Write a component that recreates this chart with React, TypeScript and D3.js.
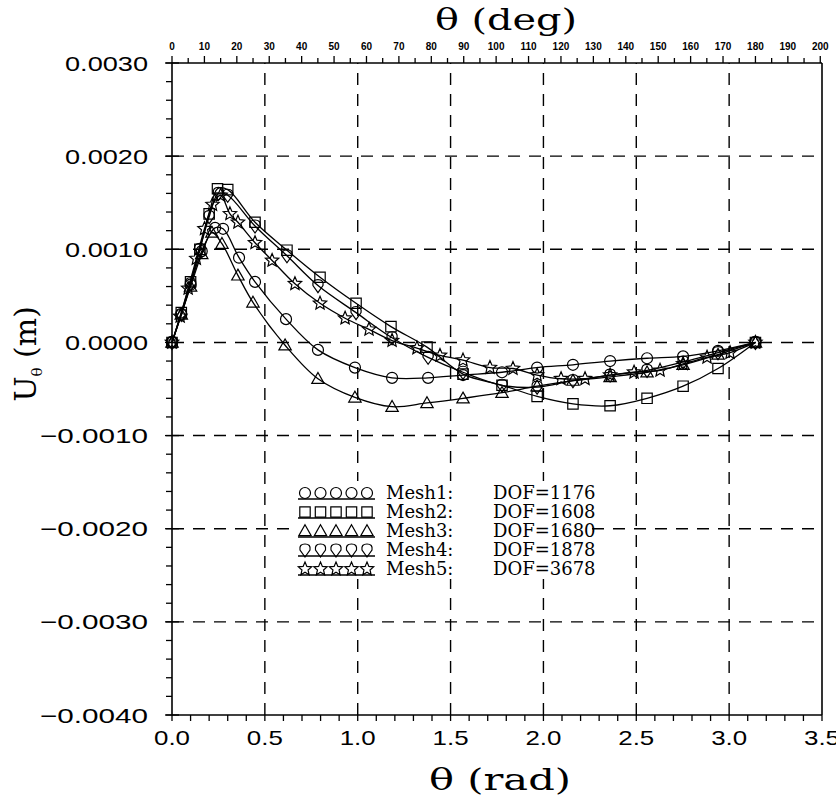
import React from "react";
import * as d3 from "d3";

const W = 836;
const H = 801;

// x in rad, y in m
const mesh1X = [0, 0.05, 0.1, 0.16, 0.232, 0.275, 0.361, 0.447, 0.614, 0.786, 0.985, 1.185, 1.379, 1.567, 1.777, 1.966, 2.159, 2.359, 2.558, 2.752, 2.94, 3.1416];
const mesh1Y = [0, 0.0003, 0.00062, 0.00098, 0.00123, 0.00122, 0.00091, 0.00065, 0.00025, -0.00008, -0.00027, -0.00038, -0.00038, -0.00035, -0.00032, -0.00027, -0.00024, -0.0002, -0.00017, -0.00015, -0.00009, 0];

const mesh2X = [0, 0.05, 0.1, 0.15, 0.2, 0.245, 0.3, 0.447, 0.619, 0.797, 0.991, 1.179, 1.373, 1.567, 1.777, 1.966, 2.159, 2.359, 2.558, 2.752, 2.94, 3.1416];
const mesh2Y = [0, 0.00032, 0.00065, 0.001, 0.00138, 0.00165, 0.00164, 0.00129, 0.00099, 0.0007, 0.00042, 0.00017, -0.00005, -0.00034, -0.00046, -0.00058, -0.00066, -0.00068, -0.0006, -0.00047, -0.00028, 0];

const mesh3X = [0, 0.05, 0.1, 0.16, 0.215, 0.269, 0.355, 0.436, 0.609, 0.786, 0.985, 1.185, 1.373, 1.567, 1.777, 1.966, 2.159, 2.359, 2.558, 2.752, 2.94, 3.1416];
const mesh3Y = [0, 0.0003, 0.0006, 0.00095, 0.00118, 0.00106, 0.00072, 0.00043, -0.00003, -0.00039, -0.00059, -0.00069, -0.00065, -0.0006, -0.00054, -0.00047, -0.00041, -0.00037, -0.00032, -0.00024, -0.00013, 0];

const mesh4X = [0, 0.05, 0.1, 0.15, 0.2, 0.25, 0.3, 0.447, 0.619, 0.786, 0.991, 1.185, 1.379, 1.567, 1.777, 1.966, 2.159, 2.359, 2.558, 2.752, 2.94, 3.1416];
const mesh4Y = [0, 0.0003, 0.00063, 0.001, 0.00135, 0.0016, 0.00158, 0.00125, 0.00093, 0.00061, 0.00032, 0.00005, -0.00016, -0.00032, -0.00046, -0.00048, -0.00041, -0.00035, -0.0003, -0.00021, -0.00011, 0];

const mesh5X = [0, 0.044, 0.087, 0.131, 0.175, 0.218, 0.262, 0.312, 0.355, 0.447, 0.539, 0.662, 0.797, 0.932, 1.061, 1.185, 1.319, 1.443, 1.567, 1.712, 1.836, 1.966, 2.095, 2.224, 2.359, 2.488, 2.628, 2.752, 2.881, 3.005, 3.1416];
const mesh5Y = [0, 0.00028, 0.00058, 0.0009, 0.00122, 0.00148, 0.00158, 0.00138, 0.00129, 0.00107, 0.00088, 0.00063, 0.00042, 0.00026, 0.00014, 0.00002, -0.00006, -0.00014, -0.00019, -0.00027, -0.00028, -0.00035, -0.00039, -0.00039, -0.00035, -0.00032, -0.0003, -0.00023, -0.00016, -0.00011, 0];

const seriesNames = ["Mesh1:", "Mesh2:", "Mesh3:", "Mesh4:", "Mesh5:"];
const seriesDOF = ["DOF=1176", "DOF=1608", "DOF=1680", "DOF=1878", "DOF=3678"];
const seriesMarkers = ["circle", "square", "triangle", "diamond", "star"];

const xTicks = [0, 0.5, 1.0, 1.5, 2.0, 2.5, 3.0, 3.5];
const yTicks = [0.003, 0.002, 0.001, 0, -0.001, -0.002, -0.003, -0.004];
const degTicks = d3.range(0, 201, 10);

const left = 172, right = 822, top = 63, bottom = 715;

const x = d3.scaleLinear().domain([0, 3.5]).range([left, right]);
const y = d3.scaleLinear().domain([-0.004, 0.003]).range([bottom, top]);

function markerPath(type: string, cx: number, cy: number): string {
  if (type === "circle") {
    const r = 5.5;
    return `M${cx + r},${cy}A${r},${r} 0 1,1 ${cx - r},${cy}A${r},${r} 0 1,1 ${cx + r},${cy}Z`;
  }
  if (type === "square") {
    const s = 5.2;
    return `M${cx - s},${cy - s}H${cx + s}V${cy + s}H${cx - s}Z`;
  }
  if (type === "triangle") {
    const s = 6.2;
    return `M${cx},${cy - s}L${cx + s},${cy + s * 0.75}L${cx - s},${cy + s * 0.75}Z`;
  }
  if (type === "diamond") {
    return `M${cx},${cy - 6}Q${cx + 6},${cy - 6} ${cx + 5},${cy}L${cx},${cy + 7}L${cx - 5},${cy}Q${cx - 6},${cy - 6} ${cx},${cy - 6}Z`;
  }
  // star
  const pts: string[] = [];
  for (let i = 0; i < 10; i++) {
    const a = -Math.PI / 2 + (i * Math.PI) / 5;
    const r = i % 2 === 0 ? 7 : 3.2;
    pts.push(`${(cx + r * Math.cos(a)).toFixed(2)},${(cy + r * Math.sin(a)).toFixed(2)}`);
  }
  return "M" + pts.join("L") + "Z";
}

function fmtY(v: number): string {
  const s = Math.abs(v).toFixed(4);
  return v < 0 ? "\u2212" + s : s;
}

export default function App() {
  const seriesX = [mesh1X, mesh2X, mesh3X, mesh4X, mesh5X];
  const seriesY = [mesh1Y, mesh2Y, mesh3Y, mesh4Y, mesh5Y];
  const line = d3
    .line<[number, number]>()
    .x((d) => x(d[0]))
    .y((d) => y(d[1]))
    .curve(d3.curveCatmullRom.alpha(0.5));

  const minorX = d3.range(0, 3.5001, 0.1);
  const minorY = d3.range(-0.004, 0.00300001, 0.0002);
  const minorDeg = d3.range(0, 201, 5);
  const degToX = (d: number) => x((d * Math.PI) / 180);

  const legX = 298;
  const legRows = [493, 512, 531, 550, 569];

  return (
    <svg width={W} height={H} style={{ display: "block", position: "absolute", left: 0, top: 0, background: "#fff" }}>
      <rect x={0} y={0} width={W} height={H} fill="#fff" />
      {/* grid */}
      <g stroke="#000" strokeWidth={1.4} strokeDasharray="12,9" fill="none">
        {xTicks.filter((t) => t > 0 && t < 3.5).map((t) => (
          <line key={"gx" + t} x1={x(t)} x2={x(t)} y1={bottom} y2={top} />
        ))}
        {yTicks.filter((t) => t > -0.004 && t < 0.003).map((t) => (
          <line key={"gy" + t} x1={left} x2={right} y1={y(t)} y2={y(t)} />
        ))}
      </g>
      {/* frame */}
      <g stroke="#000" strokeWidth={1.6} fill="none">
        <line x1={left} x2={left} y1={top} y2={bottom} />
        <line x1={right} x2={right} y1={top} y2={bottom} />
        <line x1={left} x2={right} y1={bottom} y2={bottom} />
        <line x1={left} x2={right} y1={top} y2={top} />
      </g>
      {/* left ticks */}
      <g stroke="#000" strokeWidth={1.3}>
        {minorY.map((t, i) => (
          <line key={"ly" + i} x1={left - 6} x2={left} y1={y(t)} y2={y(t)} />
        ))}
        {yTicks.map((t) => (
          <line key={"lyM" + t} x1={left - 7} x2={left + 7} y1={y(t)} y2={y(t)} />
        ))}
        {minorX.map((t, i) => (
          <line key={"bx" + i} x1={x(t)} x2={x(t)} y1={bottom} y2={bottom + 6} />
        ))}
        {minorDeg.map((d) => (
          <line key={"td" + d} x1={degToX(d)} x2={degToX(d)} y1={top} y2={top - (d % 10 === 0 ? 7 : 5)} />
        ))}
      </g>
      {/* y labels */}
      <g fontFamily="Liberation Sans, Arial, sans-serif" fontSize={21} fill="#000">
        {yTicks.map((t) => {
          const s = fmtY(t);
          const len = (t < 0 ? 25 : 0) + 83;
          return (
            <text key={"yl" + t} x={148} y={y(t) + 7.5} textAnchor="end" textLength={len} lengthAdjust="spacingAndGlyphs">
              {s}
            </text>
          );
        })}
        {xTicks.map((t) => (
          <text key={"xl" + t} x={x(t)} y={745} textAnchor="middle" textLength={36} lengthAdjust="spacingAndGlyphs">
            {t.toFixed(1)}
          </text>
        ))}
      </g>
      {/* top deg labels */}
      <g fontFamily="Liberation Sans, Arial, sans-serif" fontSize={10} fontWeight="bold" fill="#000">
        {degTicks.map((d) => (
          <text key={"dl" + d} x={degToX(d)} y={50} textAnchor="middle">
            {d}
          </text>
        ))}
      </g>
      {/* titles */}
      <g fontFamily="DejaVu Serif, serif" fill="#000">
        <text x={506} y={30} fontSize={30} textAnchor="middle" textLength={142} lengthAdjust="spacingAndGlyphs">
          θ (deg)
        </text>
        <text x={500} y={790} fontSize={30} textAnchor="middle" textLength={142} lengthAdjust="spacingAndGlyphs">
          θ (rad)
        </text>
        <g transform="translate(36,354) rotate(-90)">
          <text x={0} y={0} fontSize={30} textAnchor="middle">
            U<tspan fontSize={15} dy={6}>θ</tspan>
            <tspan dy={-6}> (m)</tspan>
          </text>
        </g>
      </g>
      {/* curves */}
      <g fill="none" stroke="#000" strokeWidth={1.3}>
        {seriesX.map((xs, si) => (
          <path key={"c" + si} d={line(xs.map((v, i) => [v, seriesY[si][i]] as [number, number])) || ""} />
        ))}
      </g>
      <g fill="none" stroke="#000" strokeWidth={1.2}>
        {seriesX.map((xs, si) =>
          xs.map((v, i) => (
            <path key={"m" + si + "-" + i} d={markerPath(seriesMarkers[si], x(v), y(seriesY[si][i]))} />
          ))
        )}
      </g>
      {/* legend */}
      <rect x={290} y={481} width={300} height={98} fill="#fff" />
      <g>
        {seriesNames.map((n, i) => (
          <g key={"lg" + i}>
            <line x1={legX} x2={legX + 77} y1={legRows[i] + 6} y2={legRows[i] + 6} stroke="#000" strokeWidth={1.3} />
            {[0, 1, 2, 3, 4].map((k) => (
              <path key={k} d={markerPath(seriesMarkers[i], legX + 7 + k * 15.5, legRows[i])} fill="none" stroke="#000" strokeWidth={1.2} />
            ))}
            <text x={386} y={legRows[i] + 6} fontFamily="DejaVu Serif, serif" fontSize={18}>
              {n}
            </text>
            <text x={493} y={legRows[i] + 6} fontFamily="DejaVu Serif, serif" fontSize={18}>
              {seriesDOF[i]}
            </text>
          </g>
        ))}
      </g>
    </svg>
  );
}
